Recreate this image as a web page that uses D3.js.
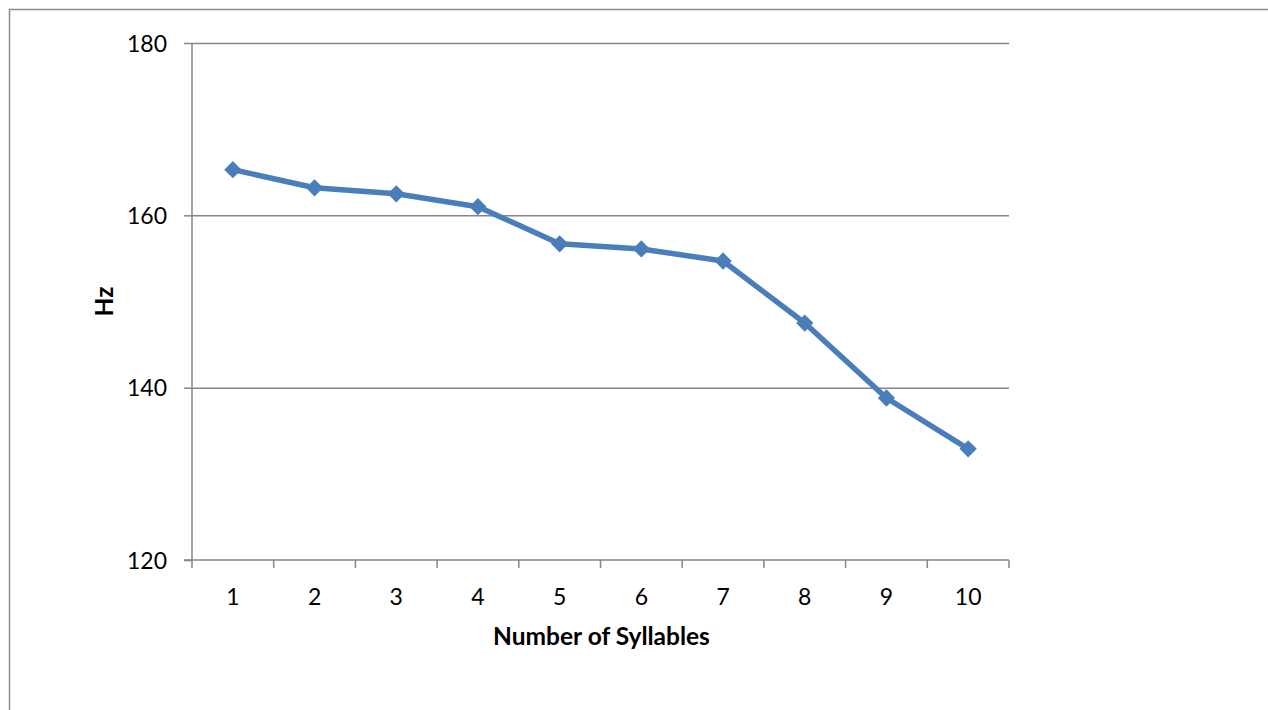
<!DOCTYPE html>
<html>
<head>
<meta charset="utf-8">
<script src="https://cdn.jsdelivr.net/npm/d3@7"></script>
<style>
  html, body { margin: 0; padding: 0; background: #fff; overflow: hidden; }
  svg { display: block; }
  text { font-family: Lato, "Open Sans", sans-serif; fill: #000; }
</style>
</head>
<body>
<svg id="chart" width="1268" height="710"></svg>
<script>
// Mean pitch (Hz) by number of syllables
const syllables = [1, 2, 3, 4, 5, 6, 7, 8, 9, 10];
const hz = [165.3, 163.2, 162.5, 161.0, 156.7, 156.1, 154.7, 147.5, 138.8, 132.9];
const yTicks = [120, 140, 160, 180];
const xTitle = "Number of Syllables";
const yTitle = "Hz";

const W = 1268, H = 710;
const plot = { left: 192, right: 1009, top: 43, bottom: 560 };
const axisColor = "#868686";
const lineColor = "#4a7ebb";

const svg = d3.select("#chart");

// outer chart frame (runs off the right and bottom edges)
svg.append("rect")
  .attr("x", 9.5).attr("y", 9.5)
  .attr("width", W + 20).attr("height", H + 20)
  .attr("fill", "none").attr("stroke", "#8c8c8c").attr("stroke-width", 1.5);

const x = d3.scaleBand().domain(syllables).range([plot.left, plot.right]).paddingInner(0).paddingOuter(0);
const y = d3.scaleLinear().domain([120, 180]).range([plot.bottom, plot.top]);

// horizontal gridlines with outward ticks
const yAxis = d3.axisLeft(y).tickValues(yTicks).tickSize(8).tickPadding(17).tickFormat(d3.format("d"));
const gy = svg.append("g").attr("transform", `translate(${plot.left},0)`).call(yAxis);
gy.select(".domain").remove();
gy.selectAll(".tick line").attr("stroke", axisColor).attr("stroke-width", 1.5);
gy.selectAll(".tick text").style("font-size", "23px").attr("dy", "0.36em");
gy.selectAll(".tick").filter(d => d !== 120).append("line")
  .attr("x1", 0).attr("x2", plot.right - plot.left)
  .attr("stroke", axisColor).attr("stroke-width", 1.5);

// vertical axis line
svg.append("line")
  .attr("x1", plot.left).attr("x2", plot.left)
  .attr("y1", plot.top).attr("y2", plot.bottom)
  .attr("stroke", axisColor).attr("stroke-width", 1.5);

// category axis: ticks at category boundaries, labels centred
const gx = svg.append("g").attr("transform", `translate(0,${plot.bottom})`);
gx.append("line")
  .attr("x1", plot.left - 8).attr("x2", plot.right)
  .attr("stroke", axisColor).attr("stroke-width", 1.5);
const bounds = syllables.map(d => x(d)).concat([x(syllables[syllables.length - 1]) + x.bandwidth()]);
gx.selectAll("line.tk").data(bounds).join("line").attr("class", "tk")
  .attr("x1", d => d).attr("x2", d => d).attr("y1", 0).attr("y2", 8)
  .attr("stroke", axisColor).attr("stroke-width", 1.5);
gx.selectAll("text").data(syllables).join("text")
  .attr("x", d => x(d) + x.bandwidth() / 2)
  .attr("y", 37)
  .attr("dy", "0.36em")
  .attr("text-anchor", "middle")
  .style("font-size", "23px")
  .text(d => d);

// axis titles
svg.append("text")
  .attr("x", (plot.left + plot.right) / 2 + 1).attr("y", 636)
  .attr("dy", "0.36em").attr("text-anchor", "middle")
  .style("font-size", "24.5px").style("font-weight", "bold")
  .text(xTitle);
svg.append("text")
  .attr("transform", `translate(104,${(plot.top + plot.bottom) / 2}) rotate(-90)`)
  .attr("dy", "0.36em").attr("text-anchor", "middle")
  .style("font-size", "24.5px").style("font-weight", "bold")
  .text(yTitle);

// series line
const cx = d => x(d) + x.bandwidth() / 2;
const line = d3.line().x((d, i) => cx(syllables[i])).y(d => y(d));
svg.append("path")
  .datum(hz)
  .attr("d", line)
  .attr("fill", "none")
  .attr("stroke", lineColor)
  .attr("stroke-width", 5.5)
  .attr("stroke-linejoin", "round");

// diamond markers
const diamond = d3.symbol().type(d3.symbolDiamond2).size(190);
svg.selectAll("path.marker").data(hz).join("path").attr("class", "marker")
  .attr("d", diamond)
  .attr("transform", (d, i) => `translate(${cx(syllables[i])},${y(d)})`)
  .attr("fill", lineColor);
</script>
</body>
</html>
